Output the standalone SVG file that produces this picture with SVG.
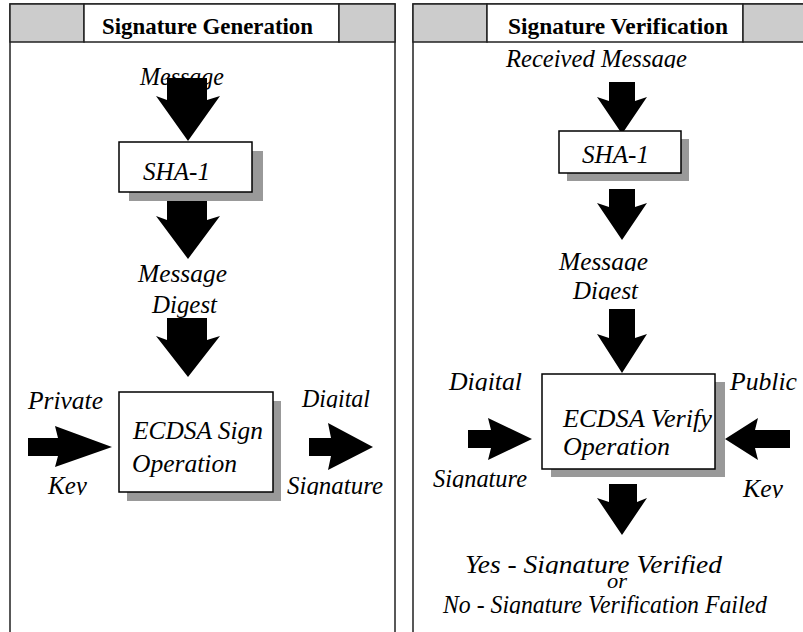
<svg xmlns="http://www.w3.org/2000/svg" width="803" height="632" viewBox="0 0 803 632">
<style>
.panel{fill:#fff;stroke:#222;stroke-width:1.5}
.hgray{fill:#cccccc;stroke:#222;stroke-width:1.5}
.hwhite{fill:#fff;stroke:#222;stroke-width:1.5}
.box{fill:#fff;stroke:#000;stroke-width:1.5}
.shadow{fill:#999999;stroke:none}
.arrow{fill:#000;stroke:none}
.hdr{font-family:"Liberation Serif",serif;font-weight:bold;font-size:23px;fill:#000}
.lbl{font-family:"Liberation Serif",serif;font-style:italic;font-size:25px;fill:#000}
.sm{font-size:22px}
</style>
<defs>
<clipPath id="cRecv"><rect x="400" y="0" width="403" height="68"/></clipPath>
<clipPath id="cSha2"><rect x="560" y="131" width="120" height="33"/></clipPath>
<clipPath id="cMsg2"><rect x="540" y="240" width="130" height="31"/></clipPath>
<clipPath id="cDig2"><rect x="540" y="275" width="130" height="25"/></clipPath>
<clipPath id="cDigital2"><rect x="420" y="360" width="120" height="31"/></clipPath>
<clipPath id="cSig2"><rect x="420" y="460" width="120" height="28"/></clipPath>
<clipPath id="cKey2"><rect x="730" y="470" width="73" height="28"/></clipPath>
<clipPath id="cDigital1"><rect x="290" y="380" width="100" height="28"/></clipPath>
<clipPath id="cSig1"><rect x="280" y="465" width="114" height="30"/></clipPath>
<clipPath id="cKey1"><rect x="30" y="465" width="80" height="30"/></clipPath>
<clipPath id="cYes"><rect x="440" y="550" width="340" height="24"/></clipPath>
<clipPath id="cNo"><rect x="430" y="590" width="350" height="24"/></clipPath>
</defs>

<g id="panel-generation">
<rect class="panel" x="10" y="4" width="385" height="640"/>
<rect class="hgray" x="10" y="4" width="74" height="38"/>
<rect class="hwhite" x="84" y="4" width="255" height="38"/>
<rect class="hgray" x="339" y="4" width="56" height="38"/>
<text class="hdr" x="102" y="34" textLength="211" lengthAdjust="spacingAndGlyphs">Signature Generation</text>
</g>

<g id="panel-verification">
<rect class="panel" x="413" y="4" width="410" height="640"/>
<rect class="hgray" x="413" y="4" width="74" height="38"/>
<rect class="hwhite" x="487" y="4" width="256" height="38"/>
<rect class="hgray" x="743" y="4" width="80" height="38"/>
<text class="hdr" x="508" y="34" textLength="220" lengthAdjust="spacingAndGlyphs">Signature Verification</text>
</g>

<g id="connectors">
<polygon class="arrow" points="167,78 207,78 207,100 220,96 188,141 156,96 167,100"/>
<polygon class="arrow" points="167,192 207,192 207,220 220,216 188,259 156,216 167,220"/>
<polygon class="arrow" points="167,318 207,318 207,340 220,336 188,377 156,336 167,340"/>
<polygon class="arrow" points="28,438 58,438 55,426 112,447 55,467 58,456 28,456"/>
<polygon class="arrow" points="309,438 331,438 328,423 373,447 328,470 331,456 309,456"/>
<polygon class="arrow" points="609,82 635,82 635,101 647,97 622,134 597,97 609,101"/>
<polygon class="arrow" points="609,189 635,189 635,207 647,203 622,240 597,203 609,207"/>
<polygon class="arrow" points="609,309 635,309 635,338 647,334 622,373 597,334 609,338"/>
<polygon class="arrow" points="468,430 491,430 488,418 532,439 488,460 491,448 468,448"/>
<polygon class="arrow" points="790,430 755,430 758,418 725,439 758,460 755,448 790,448"/>
<polygon class="arrow" points="609,484 637,484 637,502 647,498 622,535 597,498 609,502"/>
</g>

<g id="gen-message">
<text class="lbl" x="140" y="85" textLength="84" lengthAdjust="spacingAndGlyphs">Message</text>
</g>
<g id="gen-sha1">
<rect class="shadow" x="129" y="151" width="134" height="50"/>
<rect class="box" x="119" y="142" width="133" height="50"/>
<text class="lbl" x="143" y="180" textLength="67" lengthAdjust="spacingAndGlyphs">SHA-1</text>
</g>
<g id="gen-digest">
<text class="lbl" x="138" y="282" textLength="89" lengthAdjust="spacingAndGlyphs">Message</text>
<text class="lbl" x="152" y="313" textLength="65" lengthAdjust="spacingAndGlyphs">Digest</text>
</g>
<g id="gen-sign">
<rect class="shadow" x="127" y="401" width="154" height="100"/>
<rect class="box" x="119" y="392" width="154" height="100"/>
<text class="lbl" x="133" y="439" textLength="130" lengthAdjust="spacingAndGlyphs">ECDSA Sign</text>
<text class="lbl" x="132" y="472" textLength="105" lengthAdjust="spacingAndGlyphs">Operation</text>
</g>
<g id="gen-privkey">
<text class="lbl" x="28" y="409" textLength="75" lengthAdjust="spacingAndGlyphs">Private</text>
<text class="lbl" x="48" y="494" textLength="39" lengthAdjust="spacingAndGlyphs" clip-path="url(#cKey1)">Key</text>
</g>
<g id="gen-signature">
<text class="lbl" x="302" y="407" textLength="68" lengthAdjust="spacingAndGlyphs" clip-path="url(#cDigital1)">Digital</text>
<text class="lbl" x="287" y="494" textLength="96" lengthAdjust="spacingAndGlyphs" clip-path="url(#cSig1)">Signature</text>
</g>

<g id="ver-message">
<text class="lbl" x="506" y="67" textLength="181" lengthAdjust="spacingAndGlyphs" clip-path="url(#cRecv)">Received Message</text>
</g>
<g id="ver-sha1">
<rect class="shadow" x="567" y="139" width="122" height="42"/>
<rect class="box" x="559" y="131" width="122" height="42"/>
<text class="lbl" x="582" y="163" textLength="67" lengthAdjust="spacingAndGlyphs" clip-path="url(#cSha2)">SHA-1</text>
</g>
<g id="ver-digest">
<text class="lbl" x="559" y="270" textLength="89" lengthAdjust="spacingAndGlyphs" clip-path="url(#cMsg2)">Message</text>
<text class="lbl" x="573" y="299" textLength="65" lengthAdjust="spacingAndGlyphs" clip-path="url(#cDig2)">Digest</text>
</g>
<g id="ver-verify">
<rect class="shadow" x="551" y="382" width="174" height="95"/>
<rect class="box" x="542" y="374" width="173" height="95"/>
<text class="lbl" x="563" y="427" textLength="149" lengthAdjust="spacingAndGlyphs">ECDSA Verify</text>
<text class="lbl" x="563" y="455" textLength="107" lengthAdjust="spacingAndGlyphs">Operation</text>
</g>
<g id="ver-signature">
<text class="lbl" x="449" y="390" textLength="73" lengthAdjust="spacingAndGlyphs" clip-path="url(#cDigital2)">Digital</text>
<text class="lbl" x="433" y="487" textLength="94" lengthAdjust="spacingAndGlyphs" clip-path="url(#cSig2)">Signature</text>
</g>
<g id="ver-pubkey">
<text class="lbl" x="730" y="390" textLength="67" lengthAdjust="spacingAndGlyphs">Public</text>
<text class="lbl" x="743" y="497" textLength="40" lengthAdjust="spacingAndGlyphs" clip-path="url(#cKey2)">Key</text>
</g>
<g id="ver-result">
<text class="lbl" x="465" y="573" textLength="257" lengthAdjust="spacingAndGlyphs" clip-path="url(#cYes)">Yes - Signature Verified</text>
<text class="lbl sm" x="607" y="588" textLength="20" lengthAdjust="spacingAndGlyphs">or</text>
<text class="lbl" x="443" y="613" textLength="324" lengthAdjust="spacingAndGlyphs" clip-path="url(#cNo)">No - Signature Verification Failed</text>
</g>
</svg>
